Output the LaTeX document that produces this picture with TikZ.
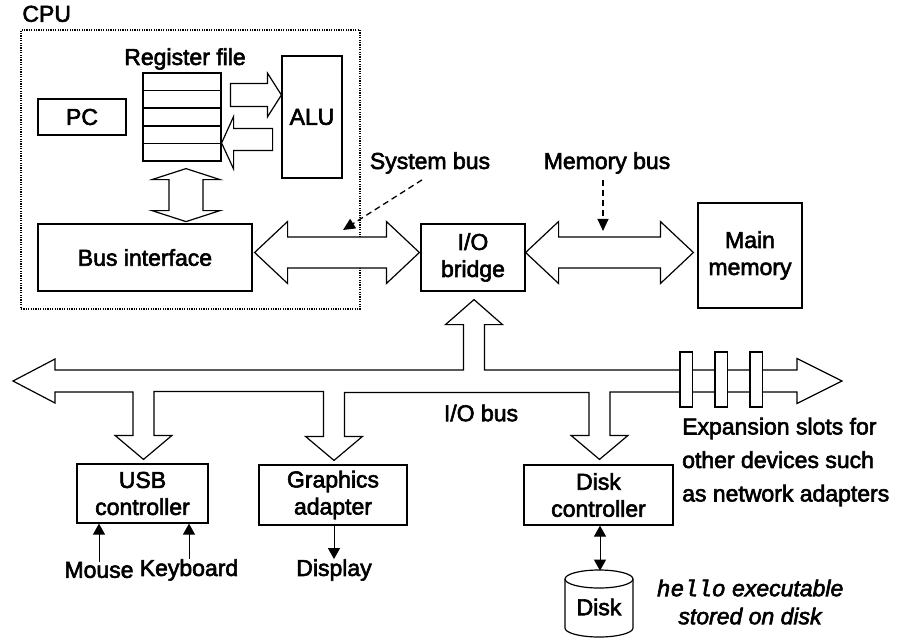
\documentclass[tikz,border=0pt]{standalone}
\usepackage{fontspec}
\setmainfont{Liberation Sans}
\setmonofont{Liberation Mono}
\newfontfamily\heavy{Liberation Sans}[FakeBold=2.6]
\newfontfamily\heavymono{Liberation Mono}[FakeBold=2.6]
\usetikzlibrary{arrows.meta, calc, positioning}
\tikzstyle{unit}=[draw, line width=1.2pt, inner sep=0pt, align=center, font=\fontsize{23}{27}\selectfont\heavy]
\tikzstyle{lbl}=[inner sep=0pt, align=center, font=\fontsize{23}{27}\selectfont\heavy]
\tikzstyle{bus}=[draw, line width=1.2pt, fill=white, line join=miter]
\tikzstyle{pointer}=[line width=1.3pt, dash pattern=on 6pt off 4pt, -{Triangle[length=12pt,width=11pt]}]
\tikzstyle{signal}=[line width=1pt, -{Triangle[length=11pt,width=12pt]}]
% horizontal double block arrow between two tips
\newcommand{\hbus}[2]{%
  \draw[bus] (#1) -- ++(33,-31) -- ++(0,15.5) -- ($(#2)+(-33,-15.5)$) -- ++(0,-15.5)
    -- (#2) -- ++(-33,31) -- ++(0,-15.5) -- ($(#1)+(33,15.5)$) -- ++(0,15.5) -- cycle;}

\begin{document}
\begin{tikzpicture}[x=1pt, y=-1pt]
  \useasboundingbox (0,0) rectangle (900,638);
  % CPU chip
  \node[draw, line width=1.6pt, dash pattern=on 1.2pt off 1.2pt, minimum width=339pt, minimum height=279pt] (cpu) at (190.5,169.5) {};
  \node[lbl, anchor=south west] (cpuname) at ($(cpu.north west)+(2,-7)$) {CPU};
  \node[unit, minimum width=78pt, minimum height=88pt] (regs) at (182,117) {};
  \foreach \k in {1,...,4}
    \draw[line width=1.2pt] ($(regs.north west)!\k/5!(regs.south west)$) -- ($(regs.north east)!\k/5!(regs.south east)$);
  \node[lbl] (regname) at (185,59) {Register file};
  \node[unit, minimum width=88pt, minimum height=36pt] (pc) at (82,117) {PC};
  \node[unit, minimum width=60pt, minimum height=122pt] (alu) at (312,117) {ALU};
  \node[unit, minimum width=214pt, minimum height=67pt] (busif) at (145,257.5) {Bus interface};
  % register file <-> ALU
  \coordinate (alutip) at ($(alu.west)+(0,-22)$);
  \coordinate (regtip) at ($(regs.east)+(0,26)$);
  \draw[bus] (alutip) -- ++(-14,22) -- ++(0,-10.5) -- ++(-37,0) -- ++(0,-23) -- ++(37,0) -- ++(0,-10.5) -- cycle;
  \draw[bus] (regtip) -- ++(12,-26.5) -- ++(0,12) -- ++(39,0) -- ++(0,22) -- ++(-39,0) -- ++(0,18.5) -- cycle;
  \coordinate (rbtip) at ($(regs.south)+(4,7)$);
  \draw[bus] (rbtip) -- ++(34,11) -- ++(-17,0) -- ++(0,31) -- ++(17,0) -- ++(-34,11) -- ++(-34,-11) -- ++(17,0) -- ++(0,-31) -- ++(-17,0) -- cycle;
  % bridge and memory
  \node[unit, minimum width=104pt, minimum height=67pt] (bridge) at (473,257.5) {I/O\\bridge};
  \node[unit, minimum width=104pt, minimum height=105pt] (mainmem) at (750,255.5) {Main\\memory};
  \coordinate (sysL) at ($(busif.east)+(2,-5)$);
  \coordinate (sysR) at ($(bridge.west)+(-1,-5)$);
  \coordinate (memL) at ($(bridge.east)+(0,-5)$);
  \coordinate (memR) at ($(mainmem.west)+(-4,-3)$);
  \hbus{sysL}{sysR}
  \hbus{memL}{memR}
  \node[lbl] (sysname) at (430,163) {System bus};
  \node[lbl] (memname) at (607,163) {Memory bus};
  \coordinate (sysptr) at (343,230);
  \coordinate (memptr) at ($(memname.south)+(-4,57)$);
  \draw[pointer] ($(sysname.south)+(-8,6)$) -- (sysptr);
  \draw[pointer] ($(memname.south)+(-4,6)$) -- (memptr);
  % I/O devices
  \node[unit, minimum width=131pt, minimum height=59pt] (usb) at (142.5,493.5) {USB\\controller};
  \node[unit, minimum width=148pt, minimum height=60pt] (gfx) at (333,495) {Graphics\\adapter};
  \node[unit, minimum width=149pt, minimum height=60pt] (diskctl) at (598.5,495) {Disk\\controller};
  % I/O bus
  \coordinate (busL) at (13,381);
  \coordinate (busR) at (842,381);
  \coordinate (upT) at ($(bridge.south)+(1,8)$);
  \coordinate (usbT) at ($(usb.north)+(1,-4)$);
  \coordinate (gfxT) at ($(gfx.north)+(1,-4)$);
  \coordinate (diskT) at ($(diskctl.north)+(1,-5)$);
  \draw[bus] (busL) -- ++(42,-22) -- ++(0,11)
    -| ($(upT)+(-10.5,25)$) -- ++(-18,0) -- (upT) -- ++(28.5,25) -- ++(-18,0)
    |- ($(busR)+(-45,-11)$) -- ++(0,-11.5) -- (busR) -- ++(-45,22.5) -- ++(0,-11.5)
    -| ($(diskT)+(10.5,-24)$) -- ++(18,0) -- (diskT) -- ++(-28.5,-24) -- ++(18,0)
    |- ($(gfxT)+(10.5,-68)$) -- ++(0,44) -- ++(18,0) -- (gfxT) -- ++(-28.5,-24) -- ++(18,0)
    |- ($(usbT)+(10.5,-68)$) -- ++(0,44) -- ++(18,0) -- (usbT) -- ++(-28.5,-24) -- ++(18,0)
    |- ($(busL)+(42,11)$) -- ++(0,11) -- cycle;
  \foreach \sx in {680,715,750}
    \draw[bus] (\sx,352) rectangle ++(12.5,55);
  \node[lbl] (iobusname) at (481,413) {I/O bus};
  \node[lbl, anchor=west, align=left, font=\fontsize{23}{33.5}\selectfont\heavy] (slots) at (682,462) {Expansion slots for\\other devices such\\as network adapters};
  % peripherals
  \node[lbl] (mouse) at (99,570) {Mouse};
  \node[lbl] (keyboard) at (189,570) {Keyboard};
  \node[lbl] (display) at (334,570) {Display};
  \draw[signal] (mouse.north) -- (mouse.north |- usb.south);
  \draw[signal] (keyboard.north) -- (keyboard.north |- usb.south);
  \draw[signal] (gfx.south -| display) -- (display.north);
  % disk
  \node[lbl] (disk) at (599,607) {Disk};
  \coordinate (disktop) at ($(diskctl.south)+(1.5,45)$);
  \draw[line width=1.2pt] (565,579) -- (565,628) arc[start angle=180, end angle=360, x radius=34pt, y radius=9pt] -- (633,579);
  \draw[line width=1.2pt] (599,579) ellipse [x radius=34pt, y radius=9pt];
  \draw[signal, {Triangle[length=11pt,width=12pt]}-{Triangle[length=11pt,width=12pt]}] (diskctl.south -| disktop) -- (disktop);
  \node[lbl, font=\fontsize{23}{28}\selectfont\heavy\itshape] (hello) at (750,602) {{\heavymono\itshape hello} executable\\stored on disk};
\end{tikzpicture}
\end{document}
